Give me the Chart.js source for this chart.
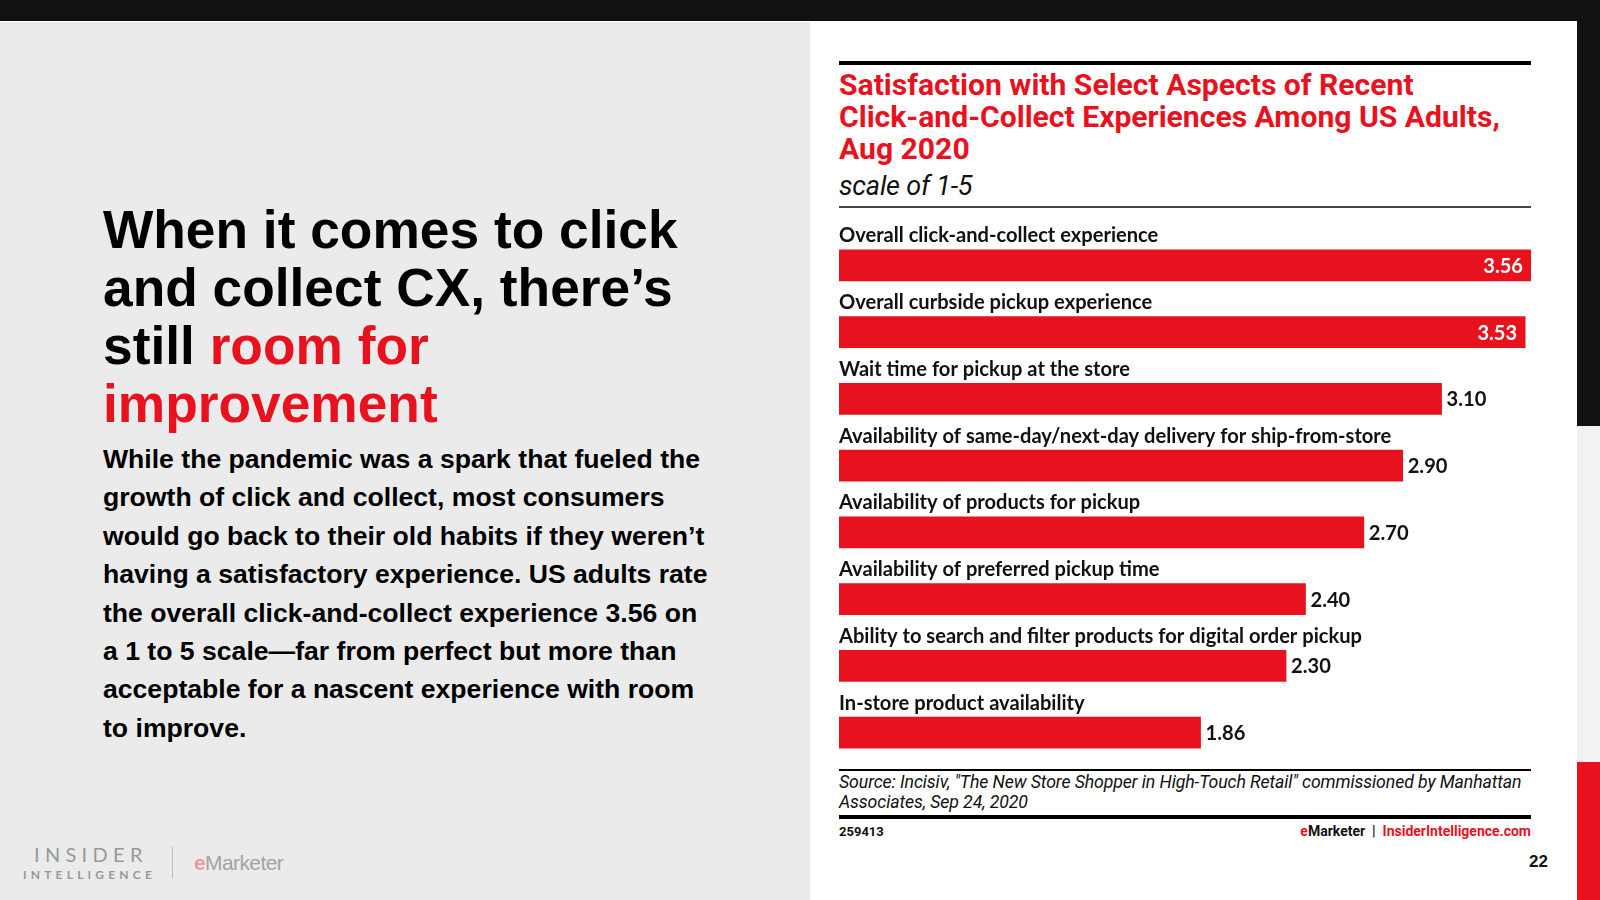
<!DOCTYPE html>
<html>
<head>
<meta charset="utf-8">
<script src="https://cdn.jsdelivr.net/npm/chart.js@4"></script>
<style>
  html, body { margin: 0; padding: 0; }
  body { width: 1600px; height: 900px; position: relative; overflow: hidden; background: #fff; font-family: "Liberation Sans", Arial, sans-serif; }
  .abs { position: absolute; }
  #topbar { left: 0; top: 0; width: 1600px; height: 21px; background: #111; }
  #leftpanel { left: 0; top: 22px; width: 810px; height: 878px; background: #ebebeb; }
  #headline { left: 103px; top: 201px; white-space: nowrap; font-weight: bold; font-size: 53.3px; line-height: 58px; color: #000; }
  #headline span { color: #e8121e; }
  #para { left: 103px; top: 440px; white-space: nowrap; font-weight: bold; font-size: 26.6px; line-height: 38.4px; color: #000; }
  .rule { background: #000; }
  #ctitle { left: 839px; top: 69px; white-space: nowrap; font-family: Roboto, sans-serif; font-weight: 700; font-size: 30.1px; line-height: 32px; color: #e8121e; }
  #csub { left: 839px; top: 170px; font-family: Roboto, sans-serif; font-style: italic; font-size: 27px; line-height: 32px; color: #111; letter-spacing: -0.2px; }
  #source { left: 839px; top: 773px; white-space: nowrap; font-family: Roboto, sans-serif; font-style: italic; font-size: 17.7px; line-height: 19.5px; color: #111; letter-spacing: -0.1px; }
  #cid { left: 839px; top: 824px; font-family: Roboto, sans-serif; font-weight: 700; font-size: 13px; color: #111; }
  #brand { left: 1131px; width: 400px; text-align: right; top: 823px; font-family: Roboto, sans-serif; font-weight: 700; font-size: 14px; color: #111; }
  #brand .r { color: #e8121e; }
  #pnum { left: 1500px; width: 48px; text-align: right; top: 852px; font-weight: bold; font-size: 17px; color: #111; }
  #logo1 { left: 34px; top: 842px; font-size: 20px; letter-spacing: 5.3px; color: #999; font-family: Lato, sans-serif; }
  #logo2 { left: 23px; top: 867px; font-size: 12px; letter-spacing: 4.2px; color: #999; font-family: Lato, sans-serif; font-weight: bold; }
  #logosep { left: 172px; top: 847px; width: 1px; height: 31px; background: #bbb; }
  #logo3 { left: 194px; top: 851px; font-size: 21px; color: #a3a3a3; letter-spacing: -0.6px; }
  #logo3 span { color: #ef9aa0; font-weight: bold; }
  #chartbox { left: 839px; top: 210px; width: 692px; height: 557px; }
</style>
</head>
<body>
<div class="abs" id="topbar"></div>
<div class="abs" id="leftpanel"></div>
<div class="abs" style="left:1577px;top:0;width:23px;height:426px;background:#111;"></div>
<div class="abs" style="left:1577px;top:426px;width:23px;height:336px;background:#f2f2f2;"></div>
<div class="abs" style="left:1577px;top:762px;width:23px;height:138px;background:#e8121e;"></div>

<div class="abs" id="headline">When it comes to click<br>and collect CX, there’s<br>still <span>room for<br>improvement</span></div>
<div class="abs" id="para">While the pandemic was a spark that fueled the<br>growth of click and collect, most consumers<br>would go back to their old habits if they weren’t<br>having a satisfactory experience. US adults rate<br>the overall click-and-collect experience 3.56 on<br>a 1 to 5 scale—far from perfect but more than<br>acceptable for a nascent experience with room<br>to improve.</div>

<div class="abs" id="logo1">INSIDER</div>
<div class="abs" id="logo2">INTELLIGENCE</div>
<div class="abs" id="logosep"></div>
<div class="abs" id="logo3"><span>e</span>Marketer</div>

<div class="abs rule" style="left:839px;top:61px;width:692px;height:4px;"></div>
<div class="abs" id="ctitle">Satisfaction with Select Aspects of Recent<br>Click-and-Collect Experiences Among US Adults,<br>Aug 2020</div>
<div class="abs" id="csub">scale of 1-5</div>
<div class="abs" style="left:839px;top:206px;width:692px;height:2px;background:#444;"></div>

<div class="abs" id="chartbox"><canvas id="chart"></canvas></div>

<div class="abs rule" style="left:839px;top:769px;width:692px;height:1.5px;"></div>
<div class="abs" id="source">Source: Incisiv, "The New Store Shopper in High-Touch Retail" commissioned by Manhattan<br>Associates, Sep 24, 2020</div>
<div class="abs rule" style="left:839px;top:815px;width:692px;height:4px;"></div>
<div class="abs" id="cid">259413</div>
<div class="abs" id="brand"><span class="r">e</span>Marketer &nbsp;|&nbsp; <span class="r">InsiderIntelligence.com</span></div>
<div class="abs" id="pnum">22</div>

<script>
const categories = [
  'Overall click-and-collect experience',
  'Overall curbside pickup experience',
  'Wait time for pickup at the store',
  'Availability of same-day/next-day delivery for ship-from-store',
  'Availability of products for pickup',
  'Availability of preferred pickup time',
  'Ability to search and filter products for digital order pickup',
  'In-store product availability'
];
const scores = [3.56, 3.53, 3.10, 2.90, 2.70, 2.40, 2.30, 1.86];

const RED = '#e8121e';
const labelFont = '700 20.1px Lato, sans-serif';

// category names above the bars, values at the bar ends
const barText = {
  id: 'barText',
  afterDatasetsDraw(chart) {
    const ctx = chart.ctx;
    const meta = chart.getDatasetMeta(0);
    ctx.save();
    ctx.font = labelFont;
    ctx.textBaseline = 'middle';
    meta.data.forEach((bar, i) => {
      ctx.fillStyle = '#111';
      ctx.textAlign = 'left';
      ctx.fillText(categories[i], chart.chartArea.left, bar.y - 29.5);
      const txt = scores[i].toFixed(2);
      if (i < 2) {
        ctx.fillStyle = '#fff';
        ctx.textAlign = 'right';
        ctx.fillText(txt, bar.x - 8, bar.y + 1);
      } else {
        ctx.fillStyle = '#111';
        ctx.textAlign = 'left';
        ctx.fillText(txt, bar.x + 5, bar.y + 1);
      }
    });
    ctx.restore();
  }
};

new Chart(document.getElementById('chart'), {
  type: 'bar',
  data: {
    labels: categories,
    datasets: [{
      data: scores,
      backgroundColor: RED,
      borderWidth: 0,
      barThickness: 31
    }]
  },
  options: {
    indexAxis: 'y',
    responsive: true,
    maintainAspectRatio: false,
    animation: false,
    layout: { padding: { top: 22, bottom: 1, left: 0, right: 0 } },
    plugins: { legend: { display: false }, tooltip: { enabled: false } },
    scales: {
      x: { display: false, min: 0, max: 3.56 },
      y: { display: false, offset: true }
    }
  },
  plugins: [barText]
});
</script>
</body>
</html>
